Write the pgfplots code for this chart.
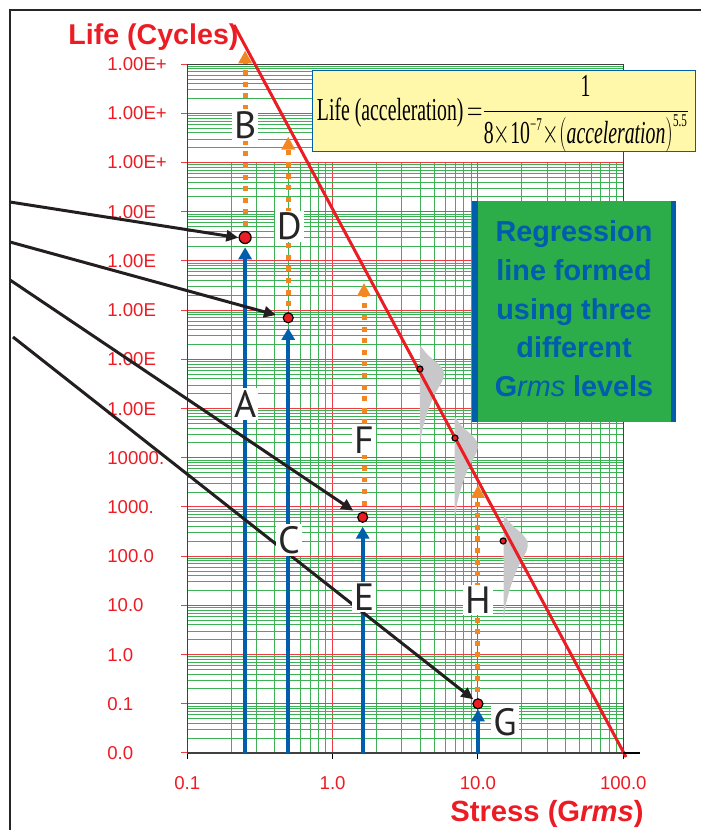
\documentclass[border=0pt]{standalone}
\usepackage{fontspec}
\setmainfont{Liberation Sans}
\newfontfamily\timesf{Liberation Serif}
\newfontfamily\letterf{PT Sans}
\usepackage{graphicx}
\usepackage{pgfplots}
\pgfplotsset{compat=1.18}
\usetikzlibrary{arrows.meta}

\definecolor{tkred}{RGB}{236,28,36}
\definecolor{gridred}{RGB}{238,60,70}
\definecolor{gridgreen}{RGB}{60,178,85}
\definecolor{arrblue}{RGB}{0,94,170}
\definecolor{arrorange}{RGB}{242,134,34}
\definecolor{arrblack}{RGB}{35,31,32}
\definecolor{boxyellow}{RGB}{255,247,170}
\definecolor{boxgreen}{RGB}{45,172,74}
\definecolor{txtblue}{RGB}{0,92,175}
\definecolor{shapegray}{RGB}{200,200,202}

\tikzset{letter/.style={fill=white, inner sep=1pt, text=black!85,
     font=\letterf\fontsize{19}{19}\selectfont}}

\def\yminor{}
\foreach \e in {-2,...,11}{\foreach \m in {2,...,9}{\xdef\yminor{\yminor\m e\e,}}}
\xdef\yminor{\yminor 1e12}
\def\xminor{}
\foreach \e in {-1,0,1}{\foreach \m in {2,...,9}{\xdef\xminor{\xminor\m e\e,}}}
\xdef\xminor{\xminor 100}

\newcommand\T[1]{\mbox{\timesf #1}}

\begin{document}
\begin{tikzpicture}
\path[use as bounding box] (0,0) rectangle (350.5pt,415pt);

% vertical grid (only up to 1e10)
\begin{axis}[at={(93.65pt,38.5pt)}, anchor=south west, scale only axis,
  width=218pt, height=295.2pt, xmode=log, ymode=log,
  xmin=0.1, xmax=100, ymin=1e-2, ymax=1e10,
  xtick={0.1,1,10,100}, minor xtick/.expanded={\xminor}, ytick=\empty,
  xticklabels={}, major tick length=0pt, minor tick length=0pt,
  xmajorgrids, xminorgrids,
  major grid style={gridred, line width=0.5pt},
  minor grid style={gridgreen, line width=0.5pt},
  axis line style={draw=none}]
\addplot[draw=none] coordinates {(1,1)};
\end{axis}

\begin{axis}[at={(93.65pt,38.5pt)}, anchor=south west, scale only axis,
  width=218pt, height=344.4pt, xmode=log, ymode=log,
  xmin=0.1, xmax=100, ymin=1e-2, ymax=1e12, clip=false,
  xtick={0.1,1,10,100}, xticklabels={0.1,1.0,10.0,100.0},
  ytick={1e-2,1e-1,1,1e1,1e2,1e3,1e4,1e5,1e6,1e7,1e8,1e9,1e10,1e11,1e12},
  yticklabels={0.0,0.1,1.0,10.0,100.0,1000.,10000.,1.00E,1.00E,1.00E,1.00E,1.00E,1.00E+,1.00E+,1.00E+},
  minor ytick/.expanded={\yminor},
  ymajorgrids, yminorgrids,
  major grid style={gridred, line width=0.5pt},
  minor grid style={gridgreen, line width=0.5pt},
  tick label style={font=\fontsize{9.3}{11}\selectfont, text=tkred},
  yticklabel style={anchor=west, xshift=-40.5pt},
  xticklabel style={yshift=-5pt},
  xtick pos=bottom, ytick pos=left, tick align=outside,
  major tick length=3pt, minor tick length=0pt,
  x tick style={black, line width=0.5pt},
  y tick style={gridred, line width=0.5pt},
  axis line style={draw=black!75, line width=0.6pt}]

% gray distributions
\addplot[fill=shapegray, draw=none, smooth, tension=0.5] coordinates {(3.977,1.948e6) (4.541,1.216e6) (5.285,8.34e5) (5.812,5.72e5) (5.702,3.742e5) (4.993,1.846e5) (4.505,8.68e4) (4.164,3.896e4) (3.977,1.748e4)};
\addplot[fill=shapegray, draw=none, smooth, tension=0.5] coordinates {(6.917,6.861e4) (7.852,4.241e4) (9.082,2.882e4) (9.947,1.967e4) (9.768,1.275e4) (8.600,6200) (7.798,2876) (7.228,1266) (6.917,560.6)};
\addplot[fill=shapegray, draw=none, smooth, tension=0.5] coordinates {(15.00,709.4) (17.13,432.5) (19.94,291.1) (21.93,196.0) (21.52,125.5) (18.84,59.75) (17.00,27.06) (15.71,11.67) (15.00,5.03)};

% regression line
\addplot[tkred, line width=1.5pt] coordinates {(0.2096,6.27e12) (104.4,0.0083)};

% blue arrows
\addplot[arrblue, line width=2pt, -{Triangle[length=6pt,width=6.5pt]}] coordinates {(0.25,0.01) (0.25,1.9e8)};
\addplot[arrblue, line width=2pt, -{Triangle[length=6pt,width=6.5pt]}] coordinates {(0.495,0.01) (0.495,4.35e6)};
\addplot[arrblue, line width=2pt, -{Triangle[length=6pt,width=6.5pt]}] coordinates {(1.61,0.01) (1.61,398)};
\addplot[arrblue, line width=2pt, -{Triangle[length=6pt,width=6.5pt]}] coordinates {(10,0.01) (10,0.0773)};

% orange dotted arrows
\addplot[arrorange, line width=2.5pt, dash pattern=on 2.5pt off 3.3pt, -{Triangle[length=6.5pt,width=6.5pt]}] coordinates {(0.25,3e8) (0.25,1.9e12)};
\addplot[arrorange, line width=2.5pt, dash pattern=on 2.5pt off 3.3pt, -{Triangle[length=6.5pt,width=6.5pt]}] coordinates {(0.495,7e6) (0.495,3.37e10)};
\addplot[arrorange, line width=2.5pt, dash pattern=on 2.5pt off 3.3pt, -{Triangle[length=6.5pt,width=6.5pt]}] coordinates {(1.644,618) (1.644,3.57e7)};
\addplot[arrorange, line width=2.5pt, dash pattern=on 2.5pt off 3.3pt, -{Triangle[length=6.5pt,width=6.5pt]}] coordinates {(10,0.1) (10,2800)};

% black arrows
\addplot[arrblack, line width=1.5pt, -{Triangle[length=6pt,width=5.5pt]}] coordinates {(0.00603,1.58e9) (0.2244,2.98e8)};
\addplot[arrblack, line width=1.5pt, -{Triangle[length=6pt,width=5.5pt]}] coordinates {(0.00603,2.43e8) (0.4076,7.98e6)};
\addplot[arrblack, line width=1.5pt, -{Triangle[length=6pt,width=5.5pt]}] coordinates {(0.00603,4.11e7) (1.387,841)};
\addplot[arrblack, line width=1.5pt, -{Triangle[length=6pt,width=5.5pt]}] coordinates {(0.00632,2.85e6) (9.29,0.123)};

% points
\addplot[only marks, mark=*, mark size=3pt, mark options={fill=tkred, draw=black, line width=0.6pt}] coordinates {(0.25,3e8)};
\addplot[only marks, mark=*, mark size=2.5pt, mark options={fill=tkred, draw=black, line width=0.6pt}] coordinates {(0.495,7e6) (1.61,618) (10,0.1)};
\addplot[only marks, mark=*, mark size=1.5pt, mark options={fill=tkred, draw=black, line width=0.6pt}] coordinates {(3.99,6.38e5) (6.95,2.52e4) (14.9,204)};

% letters
\node[letter] at (axis cs:0.25,1.24e5) {A};
\node[letter] at (axis cs:0.25,5.8e10) {B};
\node[letter] at (axis cs:0.501,213) {C};
\node[letter] at (axis cs:0.503,5.1e8) {D};
\node[letter] at (axis cs:1.644,14.8) {E};
\node[letter] at (axis cs:1.644,2.3e4) {F};
\node[letter] at (axis cs:15.35,0.0427) {G};
\node[letter] at (axis cs:10,12.9) {H};
\end{axis}

\begin{scope}[x=0.5pt, y=-0.5pt, shift={(0pt,415pt)}]
\draw[black!85, line width=1.3pt] (10,830) -- (10,10) -- (701,10);
\draw[black, line width=0.6pt] (623,753) -- (640,753);
% formula box
\draw[fill=boxyellow, draw=arrblue, line width=0.5pt] (312.7,70.7) rectangle (695,151.7);
\node at (503,114) {\resizebox{186pt}{\height}{\fontsize{16}{16}\selectfont$\T{Life (acceleration)}\,{=}\displaystyle\frac{\T{1}}{\T{8}{\times}\T{10}^{\T{\fontsize{9}{9}\selectfont −7}}{\times}\!\left(\T{\itshape acceleration}\right)^{\T{\fontsize{9}{9}\selectfont 5.5}}}$}};
% green box
\fill[boxgreen] (472.3,201) rectangle (675.7,421.7);
\fill[arrblue] (472.3,201) rectangle (477.5,421.7);
\fill[arrblue] (670.5,201) rectangle (675.7,421.7);
\node[align=center, text=txtblue, font=\bfseries\fontsize{14.4}{19.35}\selectfont] at (574,309) {Regression\\line formed\\using three\\different\\G{\mdseries\itshape rms} levels};
% titles
\node[anchor=base west, inner sep=0, text=tkred, font=\bfseries\fontsize{14.3}{16}\selectfont] at (68,45) {Life (Cycles)};
\node[anchor=base west, inner sep=0, text=tkred, font=\bfseries\fontsize{14.6}{16}\selectfont] at (450,821) {Stress (G\textit{rms})};
\end{scope}
\end{tikzpicture}
\end{document}
